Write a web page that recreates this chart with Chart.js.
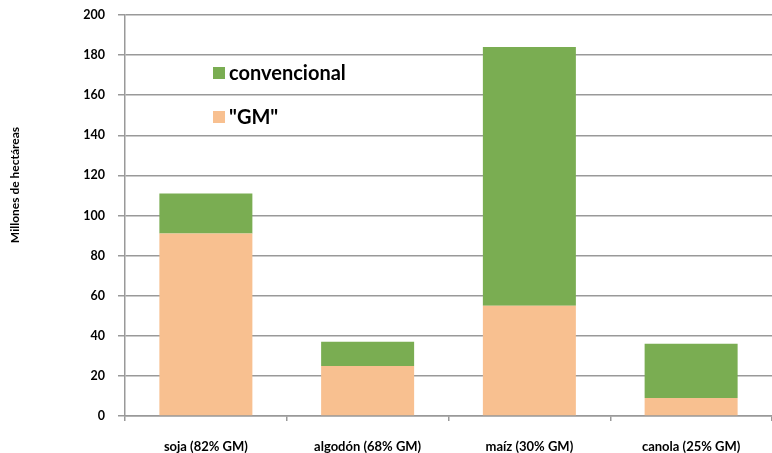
<!DOCTYPE html>
<html>
<head>
<meta charset="utf-8">
<script src="https://cdn.jsdelivr.net/npm/chart.js@4.4.1/dist/chart.umd.min.js"></script>
<style>
  html, body { margin: 0; padding: 0; background: #fff; }
  #wrap { width: 772px; height: 453px; }
</style>
</head>
<body>
<div id="wrap"><canvas id="myChart" width="772" height="453"></canvas></div>
<script>
// cultivos y superficie (millones de ha)
const cultivos = ['soja (82% GM)', 'algodón (68% GM)', 'maíz (30% GM)', 'canola (25% GM)'];
const superficieGM = [91, 25, 55, 9];
const superficieConvencional = [20, 12, 129, 27];
const yTicks = [0, 20, 40, 60, 80, 100, 120, 140, 160, 180, 200];
const tituloEjeY = 'Millones de hectáreas';

const COLOR_VERDE = '#7aad52';
const COLOR_NARANJA = '#f8c090';
const COLOR_GRID = '#999999';
const FUENTE = 'Lato, "Open Sans", sans-serif';

// leyenda dentro del área del gráfico (convencional arriba) y título del eje Y
const textosExtra = {
  id: 'textosExtra',
  afterDraw(chart) {
    const ctx = chart.ctx;
    const items = chart.data.datasets.slice().reverse();
    ctx.save();
    ctx.font = 'bold 20px ' + FUENTE;
    ctx.textBaseline = 'middle';
    items.forEach((ds, i) => {
      const y = 73 + i * 44;
      ctx.fillStyle = ds.backgroundColor;
      ctx.fillRect(213, y - 6, 12, 12);
      ctx.fillStyle = '#000';
      ctx.fillText(ds.label, 229, y + 1);
    });

    ctx.translate(15, 185);
    ctx.rotate(-Math.PI / 2);
    ctx.font = 'bold 12px ' + FUENTE;
    ctx.textAlign = 'center';
    ctx.fillText(tituloEjeY, 0, 0);
    ctx.restore();
  }
};

const data = {
  labels: cultivos,
  datasets: [
    {
      label: '"GM"',
      data: superficieGM,
      backgroundColor: COLOR_NARANJA,
      barPercentage: 0.575,
      categoryPercentage: 1
    },
    {
      label: 'convencional',
      data: superficieConvencional,
      backgroundColor: COLOR_VERDE,
      barPercentage: 0.575,
      categoryPercentage: 1
    }
  ]
};

const config = {
  type: 'bar',
  data: data,
  plugins: [textosExtra],
  options: {
    responsive: false,
    animation: false,
    layout: { padding: { top: 15, right: 0, left: 0, bottom: 0 } },
    plugins: {
      legend: { display: false },
      tooltip: { enabled: false }
    },
    scales: {
      x: {
        stacked: true,
        afterFit: scale => {
          scale.height = 37;
          scale.paddingLeft = 0;
          scale.paddingRight = 0;
        },
        grid: {
          offset: true,
          drawOnChartArea: false,
          color: COLOR_GRID,
          lineWidth: 1.5,
          tickLength: 5
        },
        border: { color: COLOR_GRID, width: 1.5 },
        ticks: {
          color: '#000',
          padding: 18,
          maxRotation: 0,
          font: { family: FUENTE, weight: 'bold', size: 13 }
        }
      },
      y: {
        stacked: true,
        min: 0,
        max: 200,
        afterFit: scale => {
          scale.width = 125;
          scale.paddingTop = 0;
          scale.paddingBottom = 0;
        },
        afterBuildTicks: scale => { scale.ticks = yTicks.map(v => ({ value: v })); },
        grid: {
          color: COLOR_GRID,
          lineWidth: 1.5,
          tickLength: 7
        },
        border: { color: COLOR_GRID, width: 1.5 },
        ticks: {
          color: '#000',
          padding: 13,
          font: { family: FUENTE, weight: 'bold', size: 12.5 }
        }
      }
    }
  }
};

const myChart = new Chart(document.getElementById('myChart'), config);
</script>
</body>
</html>
